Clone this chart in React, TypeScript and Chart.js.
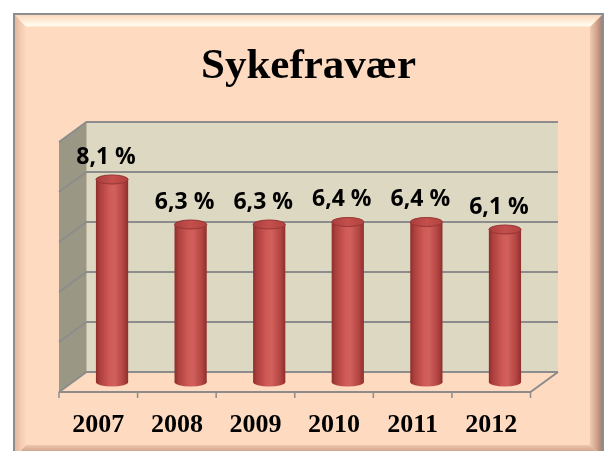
import React, { useEffect, useRef } from "react";
import { Chart, registerables } from "chart.js";

Chart.register(...registerables);

// ---- data ----
const categories: string[] = ["2007", "2008", "2009", "2010", "2011", "2012"];
const values: number[] = [8.1, 6.3, 6.3, 6.4, 6.4, 6.1];
const gridTicks: number[] = [0, 2, 4, 6, 8, 10];
const titleText = "Sykefravær";

const fmt = (v: number) => v.toFixed(1).replace(".", ",") + " %";

// ---- styling constants ----
const HX = 13.75; // half depth offset x
const HY = 10; // half depth offset y
const BAR_FRAC = 0.41;
const RY = 4.5;

function cylGradient(ctx: CanvasRenderingContext2D, cx: number, w: number) {
  const g = ctx.createLinearGradient(cx - w / 2, 0, cx + w / 2, 0);
  g.addColorStop(0, "#8C2E2C");
  g.addColorStop(0.12, "#AD3F3D");
  g.addColorStop(0.42, "#CF5A56");
  g.addColorStop(0.58, "#D1605C");
  g.addColorStop(0.85, "#B24441");
  g.addColorStop(1, "#8E2F2D");
  return g;
}

function topGradient(ctx: CanvasRenderingContext2D, cx: number, w: number) {
  const g = ctx.createLinearGradient(cx - w / 2, 0, cx + w / 2, 0);
  g.addColorStop(0, "#A83F3D");
  g.addColorStop(0.5, "#C44F4C");
  g.addColorStop(1, "#B04340");
  return g;
}

const scenePlugin = {
  id: "scene3d",
  beforeDatasetsDraw(chart: any) {
    const { ctx, chartArea: a, scales } = chart;
    const x = scales.x;
    const y = scales.y;
    const L = a.left;
    const R = a.right;
    const y0 = y.getPixelForValue(gridTicks[0]);
    const yT = y.getPixelForValue(gridTicks[gridTicks.length - 1]);
    ctx.save();
    // back wall
    ctx.fillStyle = "#DDD8C2";
    ctx.fillRect(L + HX, yT - HY, R - L, y0 - yT);
    // side wall
    ctx.fillStyle = "#9A9884";
    ctx.beginPath();
    ctx.moveTo(L - HX, yT + HY);
    ctx.lineTo(L + HX, yT - HY);
    ctx.lineTo(L + HX, y0 - HY);
    ctx.lineTo(L - HX, y0 + HY);
    ctx.closePath();
    ctx.fill();
    // gridlines
    ctx.strokeStyle = "#8C8C8C";
    ctx.lineWidth = 2;
    for (const v of gridTicks) {
      const yy = y.getPixelForValue(v);
      ctx.beginPath();
      ctx.moveTo(L - HX, yy + HY);
      ctx.lineTo(L + HX, yy - HY);
      ctx.lineTo(R + HX, yy - HY);
      ctx.stroke();
    }
    // floor front and right edges
    ctx.beginPath();
    ctx.moveTo(L - HX, y0 + HY);
    ctx.lineTo(R - HX, y0 + HY);
    ctx.lineTo(R + HX, y0 - HY);
    ctx.stroke();
    // ticks
    ctx.lineWidth = 1.5;
    for (let i = 0; i <= categories.length; i++) {
      const xx = x.getPixelForValue(i - 0.5) - HX;
      ctx.beginPath();
      ctx.moveTo(xx, y0 + HY);
      ctx.lineTo(xx, y0 + HY + 6);
      ctx.stroke();
    }
    // bottom ellipses of cylinders
    const meta = chart.getDatasetMeta(0);
    for (const el of meta.data) {
      const p = el.getProps(["x", "y", "base", "width"], true);
      ctx.fillStyle = cylGradient(ctx, p.x, p.width);
      ctx.beginPath();
      ctx.ellipse(p.x, p.base, p.width / 2, RY, 0, 0, Math.PI * 2);
      ctx.fill();
    }
    ctx.restore();
  },
  afterDatasetsDraw(chart: any) {
    const { ctx, chartArea: a, scales } = chart;
    const x = scales.x;
    const meta = chart.getDatasetMeta(0);
    ctx.save();
    meta.data.forEach((el: any, i: number) => {
      const p = el.getProps(["x", "y", "base", "width"], true);
      ctx.fillStyle = topGradient(ctx, p.x, p.width);
      ctx.strokeStyle = "#963533";
      ctx.lineWidth = 1;
      ctx.beginPath();
      ctx.ellipse(p.x, p.y, p.width / 2, RY, 0, 0, Math.PI * 2);
      ctx.fill();
      ctx.stroke();
      // value label
      ctx.fillStyle = "#000";
      ctx.font = 'bold 23px "Open Sans", sans-serif';
      ctx.textAlign = "center";
      ctx.textBaseline = "alphabetic";
      ctx.fillText(fmt(values[i]), p.x - 6, p.y - 16);
    });
    // category labels
    ctx.font = 'bold 26px "Liberation Serif", serif';
    ctx.fillStyle = "#000";
    ctx.textAlign = "center";
    ctx.textBaseline = "alphabetic";
    categories.forEach((c, i) => {
      ctx.fillText(c, x.getPixelForValue(i) - HX, a.bottom + 50);
    });
    ctx.restore();
  },
};

function ChartCanvas() {
  const ref = useRef<HTMLCanvasElement | null>(null);
  useEffect(() => {
    if (!ref.current) return;
    const chart = new Chart(ref.current, {
      type: "bar",
      data: {
        labels: categories,
        datasets: [
          {
            data: values,
            borderWidth: 0,
            barPercentage: BAR_FRAC,
            categoryPercentage: 1,
            backgroundColor: (c: any) => {
              const ch = c.chart;
              const xs = ch.scales && ch.scales.x;
              const area = ch.chartArea;
              if (!xs || !area || c.dataIndex == null) return "#C0504D";
              const cx = xs.getPixelForValue(c.dataIndex);
              const w = ((area.right - area.left) / categories.length) * BAR_FRAC;
              return cylGradient(ch.ctx, cx, w);
            },
          },
        ],
      },
      options: {
        responsive: false,
        animation: false,
        devicePixelRatio: 1,
        layout: { padding: { left: 72.75, right: 60.75, top: 0, bottom: 69 } },
        scales: {
          x: { display: false, offset: true },
          y: { display: false, min: 0, max: 10 },
        },
        plugins: {
          legend: { display: false },
          tooltip: { enabled: false },
          title: {
            display: true,
            text: titleText,
            color: "#000",
            font: { family: '"Liberation Serif", serif', size: 43, weight: "bold" },
            padding: { top: 41, bottom: 39.4 },
          },
        },
      } as any,
      plugins: [scenePlugin],
    });
    return () => chart.destroy();
  }, []);
  return (
    <canvas
      ref={ref}
      width={605}
      height={451}
      style={{ position: "absolute", left: 0, top: 0, width: 605, height: 451 }}
    />
  );
}

export default function App() {
  const peach = "#FDDAC0";
  return (
    <div
      style={{
        position: "fixed",
        left: 0,
        top: 0,
        width: 605,
        height: 451,
        overflow: "hidden",
        background: "#fff",
      }}
    >
      <div
        style={{
          position: "absolute",
          left: 13,
          top: 13,
          width: 591,
          height: 446,
          boxSizing: "border-box",
          border: "2px solid #8E8E8E",
          background: peach,
        }}
      >
        <div
          style={{
            position: "absolute",
            left: 0,
            top: 0,
            right: 0,
            height: 12,
            background: "linear-gradient(to bottom, #FCD8BE 0%, #FFEBD6 45%, #FFFBEF 85%, #FEE6CF 100%)",
            clipPath: "polygon(0 0, 100% 0, calc(100% - 12px) 100%, 11px 100%)",
          }}
        />
        <div
          style={{
            position: "absolute",
            left: 0,
            top: 0,
            bottom: 0,
            width: 11,
            background: "linear-gradient(to right, #E3B89F 0%, #F5CFB5 60%, #FCD8BE 100%)",
            clipPath: "polygon(0 0, 100% 12px, 100% calc(100% - 12px), 0 100%)",
          }}
        />
        <div
          style={{
            position: "absolute",
            right: 0,
            top: 0,
            bottom: 0,
            width: 12,
            background: "linear-gradient(to right, #F2C9AF 0%, #D2A890 50%, #A8806F 100%)",
            clipPath: "polygon(0 12px, 100% 0, 100% 100%, 0 calc(100% - 12px))",
          }}
        />
        <div
          style={{
            position: "absolute",
            left: 0,
            right: 0,
            bottom: 0,
            height: 12,
            background: "linear-gradient(to bottom, #F0C6AC 0%, #C9A08A 60%, #A8806F 100%)",
            clipPath: "polygon(11px 0, calc(100% - 12px) 0, 100% 100%, 0 100%)",
          }}
        />
      </div>
      <ChartCanvas />
    </div>
  );
}
